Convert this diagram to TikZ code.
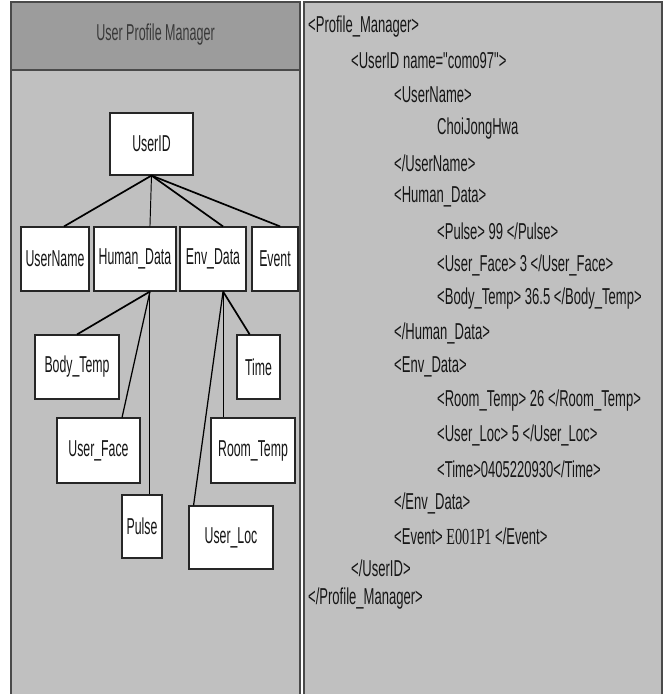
\documentclass[tikz,border=0pt]{standalone}
\usepackage{fontspec}
\setmainfont{Liberation Sans}
\newfontfamily\treefont{Liberation Sans}[FakeStretch=0.535]
\newfontfamily\titlefont{Liberation Sans}[FakeStretch=0.545]
\newfontfamily\xmlfont{Liberation Sans}[FakeStretch=0.567]
\newfontfamily\xmlserif{Liberation Serif}[FakeStretch=0.62]
\usetikzlibrary{calc,shadows}
\definecolor{panelgray}{HTML}{C0C0C0}
\definecolor{headgray}{HTML}{9C9C9C}
\definecolor{edgegray}{HTML}{4A4A4A}
\definecolor{inkgray}{HTML}{161616}
\tikzset{
  panel/.style={fill=panelgray, draw=edgegray, line width=1.6pt},
  elem/.style={draw=black!85, fill=white, line width=1.1pt, inner sep=0pt,
    font=\treefont\fontsize{23}{26}\selectfont, text=inkgray,
    drop shadow={shadow xshift=0.8pt, shadow yshift=-1.2pt, fill=black!55, opacity=1}},
  xml/.style={anchor=west, inner sep=0pt, font=\xmlfont\fontsize{23}{26}\selectfont, text=inkgray},
  thickedge/.style={line width=1.7pt, black},
  midedge/.style={line width=1.25pt, black},
  thinedge/.style={line width=0.95pt, black}
}
\begin{document}
\begin{tikzpicture}[x=1pt, y=-1pt]
\useasboundingbox (0,0) rectangle (665,694);
\fill[white] (0,0) rectangle (665,694);

% left panel with its header bar
\fill[panelgray] (11,2) rectangle (300,700);
\fill[headgray] (11,2) rectangle (300,70);
\draw[edgegray, line width=2pt] (11,70) -- (300,70);
\draw[edgegray, line width=1.6pt] (11,700) -- (11,2) -- (300,2) -- (300,700);
\node[font=\titlefont\fontsize{23}{26}\selectfont, text=inkgray!85] (title) at (155.5,35) {User Profile Manager};

% right panel
\fill[panelgray] (304,2) rectangle (662,700);
\draw[edgegray, line width=1.6pt] (304,700) -- (304,2) -- (662,2) -- (662,700);

% element tree
\node[elem, minimum width=83pt, minimum height=62pt] (uid)   at (151.5,144) {UserID};
\node[elem, minimum width=68pt, minimum height=64pt] (uname) at (55,259)    {UserName};
\node[elem, minimum width=82pt, minimum height=64pt] (hdata) at (135,259)   {Human\_Data};
\node[elem, minimum width=66pt, minimum height=64pt] (edata) at (213,259)   {Env\_Data};
\node[elem, minimum width=46pt, minimum height=64pt] (event) at (275,259)   {Event};
\node[elem, minimum width=84pt, minimum height=64pt] (body)  at (77,367)    {Body\_Temp};
\node[elem, minimum width=83pt, minimum height=65pt] (ufac)  at (98.5,450.5) {User\_Face};
\node[elem, minimum width=40pt, minimum height=63pt] (pulse) at (142,526.5) {Pulse};
\node[elem, minimum width=43pt, minimum height=64pt] (time)  at (258.5,367) {Time};
\node[elem, minimum width=84pt, minimum height=65pt] (rtemp) at (253,450.5) {Room\_Temp};
\node[elem, minimum width=84pt, minimum height=63pt] (uloc)  at (231,537.5) {User\_Loc};

% connectors between parent and child elements
\draw[thickedge] (uid.south) -- ($(uname.north west)!0.63!(uname.north east)$);
\draw[thinedge]  (uid.south) -- ($(hdata.north west)!0.68!(hdata.north east)$);
\draw[thickedge] (uid.south) -- ($(edata.north west)!0.65!(edata.north east)$);
\draw[thickedge] (uid.south) -- ($(event.north west)!0.61!(event.north east)$);

\coordinate (hbot) at ($(hdata.south west)!0.68!(hdata.south east)$);
\coordinate (ebot) at ($(edata.south west)!0.65!(edata.south east)$);
\draw[thickedge] (hbot) -- ($(body.north west)!0.5!(body.north east)$);
\draw[midedge]   (hbot) -- ($(ufac.north west)!0.78!(ufac.north east)$);
\draw[thinedge]  (hbot) -- (hbot |- pulse.north);
\draw[thickedge] (ebot) -- ($(time.north west)!0.3!(time.north east)$);
\draw[thinedge]  (ebot) -- (ebot |- rtemp.north);
\draw[midedge]   (ebot) -- ($(uloc.north west)!0.06!(uloc.north east)$);

% XML listing
\node[xml] (l0)  at (308,27)  {<Profile\_Manager>};
\node[xml] (l1)  at (351,61)  {<UserID name="como97">};
\node[xml] (l2)  at (394,95)  {<UserName>};
\node[xml] (l3)  at (437,129) {ChoiJongHwa};
\node[xml] (l4)  at (394,163) {</UserName>};
\node[xml] (l5)  at (394,197) {<Human\_Data>};
\node[xml] (l6)  at (437,231) {<Pulse> 99 </Pulse>};
\node[xml] (l7)  at (437,265) {<User\_Face> 3 </User\_Face>};
\node[xml] (l8)  at (437,299) {<Body\_Temp> 36.5 </Body\_Temp>};
\node[xml] (l9)  at (394,333) {</Human\_Data>};
\node[xml] (l10) at (394,367) {<Env\_Data>};
\node[xml] (l11) at (437,401) {<Room\_Temp> 26 </Room\_Temp>};
\node[xml] (l12) at (437,435) {<User\_Loc> 5 </User\_Loc>};
\node[xml] (l13) at (437,469) {<Time>0405220930</Time>};
\node[xml] (l14) at (394,503) {</Env\_Data>};
\node[xml] (l15) at (394,536) {<Event> {\xmlserif E001P1} </Event>};
\node[xml] (l16) at (351,568) {</UserID>};
\node[xml] (l17) at (308,599) {</Profile\_Manager>};
\end{tikzpicture}
\end{document}
